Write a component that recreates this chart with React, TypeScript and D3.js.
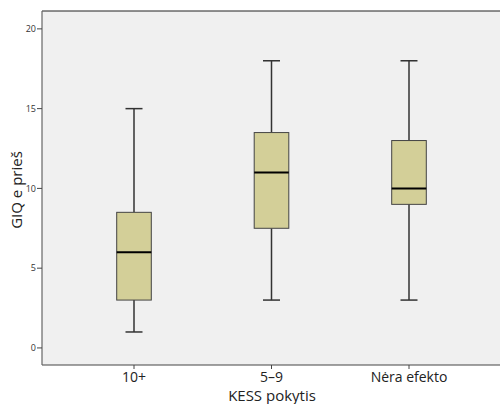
import React from "react";
import * as d3 from "d3";

const categories = ["10+", "5–9", "Nėra efekto"];
const whiskerLow = [1, 3, 3];
const q1 = [3, 7.5, 9];
const median = [6, 11, 10];
const q3 = [8.5, 13.5, 13];
const whiskerHigh = [15, 18, 18];
const yTicks = [0, 5, 10, 15, 20];

export default function App() {
  const W = 500, H = 404;
  const left = 42, top = 11, right = 548, bottom = 365;
  const y = d3.scaleLinear().domain([-1.07, 21.12]).range([bottom, top]);
  const x = d3.scalePoint<string>().domain(categories).range([134, 409]);
  const bw = 34.6;
  const capW = 17;
  const font = "'Open Sans', 'Noto Sans', sans-serif";
  return (
    <svg width={W} height={H} style={{ position: "absolute", left: 0, top: 0 }}>
      <rect x={0} y={0} width={W} height={H} fill="#fff" />
      <rect x={left} y={top} width={right - left} height={bottom - top} fill="#f0f0f0" />
      <line x1={left} x2={right} y1={top} y2={top} stroke="#222" strokeWidth={1} />
      <line x1={left} x2={right} y1={bottom} y2={bottom} stroke="#444" strokeWidth={1} />
      <line x1={left} x2={left} y1={top} y2={bottom} stroke="#666" strokeWidth={1.2} />
      {yTicks.map((t) => (
        <g key={t}>
          <line x1={left - 5} x2={left} y1={y(t)} y2={y(t)} stroke="#444" />
          <text x={left - 6} y={y(t)} dy="0.35em" textAnchor="end" fontSize={9} fill="#333" fontFamily={font}>
            {t}
          </text>
        </g>
      ))}
      {categories.map((c, i) => {
        const cx = x(c)!;
        return (
          <g key={c}>
            <line x1={cx} x2={cx} y1={bottom} y2={bottom + 4} stroke="#444" />
            <text x={cx} y={bottom + 17} textAnchor="middle" fontSize={14} fill="#222" fontFamily={font}>
              {c}
            </text>
            <line x1={cx} x2={cx} y1={y(whiskerLow[i])} y2={y(q1[i])} stroke="#333" strokeWidth={1.5} />
            <line x1={cx} x2={cx} y1={y(q3[i])} y2={y(whiskerHigh[i])} stroke="#333" strokeWidth={1.5} />
            <line x1={cx - capW / 2} x2={cx + capW / 2} y1={y(whiskerLow[i])} y2={y(whiskerLow[i])} stroke="#333" strokeWidth={1.5} />
            <line x1={cx - capW / 2} x2={cx + capW / 2} y1={y(whiskerHigh[i])} y2={y(whiskerHigh[i])} stroke="#333" strokeWidth={1.5} />
            <rect
              x={cx - bw / 2}
              y={y(q3[i])}
              width={bw}
              height={y(q1[i]) - y(q3[i])}
              fill="#d3cf98"
              stroke="#444"
              strokeWidth={1}
            />
            <line x1={cx - bw / 2} x2={cx + bw / 2} y1={y(median[i])} y2={y(median[i])} stroke="#000" strokeWidth={2} />
          </g>
        );
      })}
      <text x={272} y={401} textAnchor="middle" fontSize={15} fill="#222" fontFamily={font}>
        KESS pokytis
      </text>
      <text
        transform={`translate(22, 190) rotate(-90)`}
        textAnchor="middle"
        fontSize={15}
        fill="#222"
        fontFamily={font}
      >
        GIQ e prieš
      </text>
    </svg>
  );
}
